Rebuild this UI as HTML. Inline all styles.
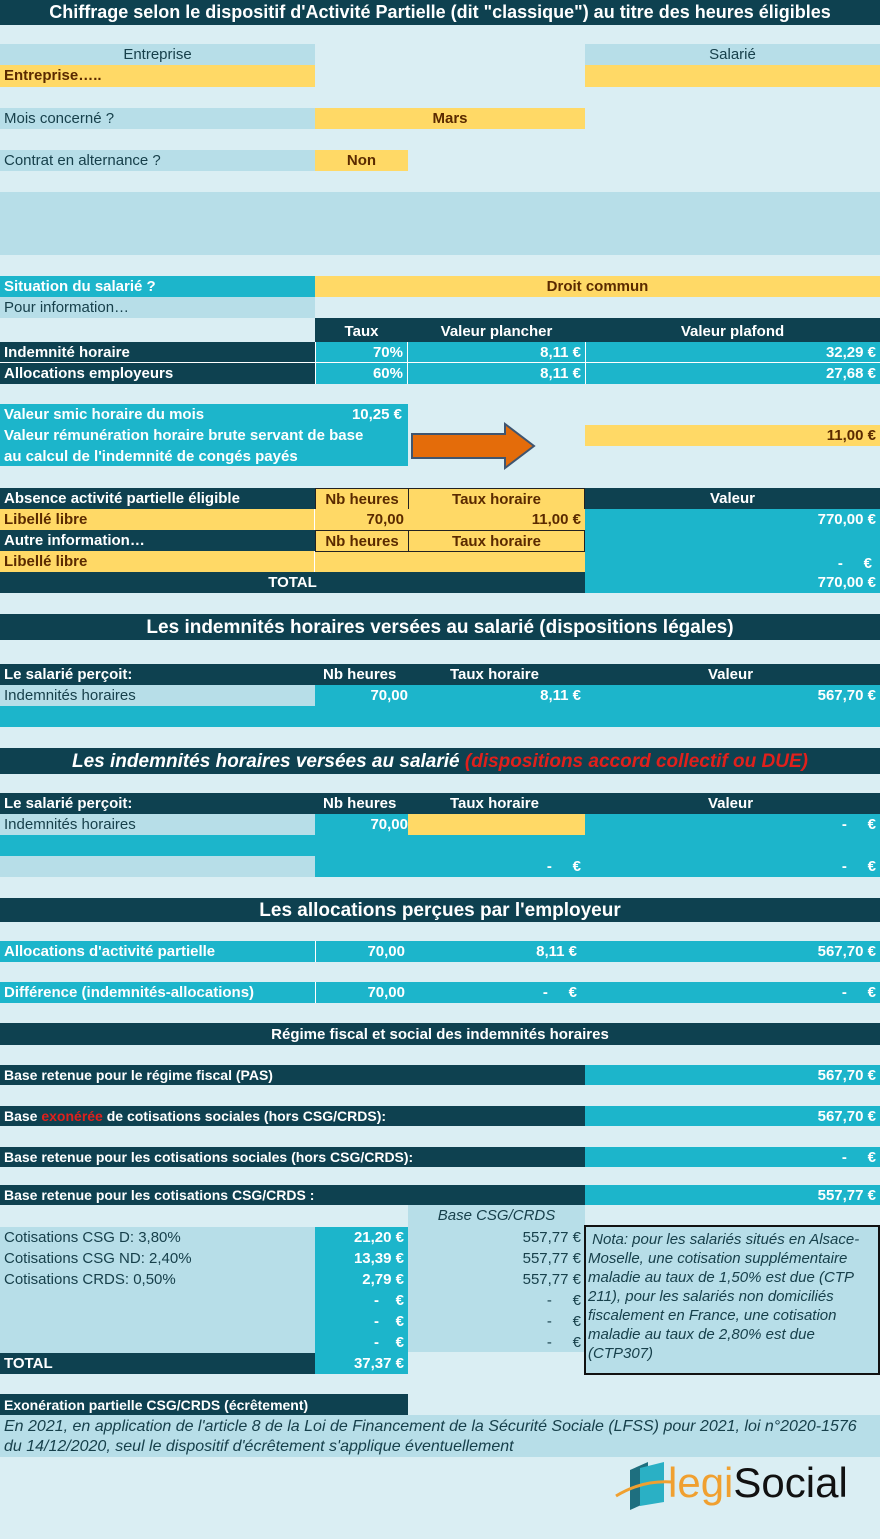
<!DOCTYPE html>
<html><head><meta charset="utf-8"><style>
body{margin:0;width:880px;height:1539px;background:#daeef3;position:relative;overflow:hidden;font-family:"Liberation Sans",Arial,sans-serif;font-size:15px;}
.x{position:absolute;box-sizing:border-box;white-space:nowrap;overflow:hidden;padding:0 4px;}
.d{background:#0e4150;color:#fff;font-weight:bold;}
.y{background:#ffd966;color:#5a2a00;font-weight:bold;}
.cy{background:#1cb5cb;color:#fff;font-weight:bold;}
.lb{background:#b7dee8;color:#17404b;}
.c{text-align:center}.r{text-align:right}
.bx{border:1px solid #222}
</style></head><body>
<div class="x d c" style="left:0;top:0;width:880px;height:25px;line-height:25px;font-size:18px">Chiffrage selon le dispositif d'Activité Partielle (dit "classique") au titre des heures éligibles</div>

<div class="x lb c" style="left:0;top:44px;width:315px;height:21px;line-height:22px">Entreprise</div>
<div class="x lb c" style="left:585px;top:44px;width:295px;height:21px;line-height:22px">Salarié</div>
<div class="x y" style="left:0;top:65px;width:315px;height:22px;line-height:22px">Entreprise…..</div>
<div class="x y" style="left:585px;top:65px;width:295px;height:22px"></div>

<div class="x lb" style="left:0;top:108px;width:315px;height:21px;line-height:22px">Mois concerné ?</div>
<div class="x y c" style="left:315px;top:108px;width:270px;height:21px;line-height:22px">Mars</div>
<div class="x lb" style="left:0;top:150px;width:315px;height:21px;line-height:22px">Contrat en alternance ?</div>
<div class="x y c" style="left:315px;top:150px;width:93px;height:21px;line-height:22px">Non</div>

<div class="x lb" style="left:0;top:192px;width:880px;height:63px"></div>

<div class="x cy" style="left:0;top:276px;width:315px;height:21px;line-height:22px">Situation du salarié ?</div>
<div class="x y c" style="left:315px;top:276px;width:565px;height:21px;line-height:22px">Droit commun</div>
<div class="x lb" style="left:0;top:297px;width:315px;height:21px;line-height:22px">Pour information…</div>

<div class="x d c" style="left:315px;top:318px;width:93px;height:24px;line-height:27px">Taux</div>
<div class="x d c" style="left:408px;top:318px;width:177px;height:24px;line-height:27px">Valeur plancher</div>
<div class="x d c" style="left:585px;top:318px;width:295px;height:24px;line-height:27px">Valeur plafond</div>

<div class="x d" style="left:0;top:342px;width:315px;height:21px;line-height:22px;border-bottom:1px solid #fff">Indemnité horaire</div>
<div class="x cy r" style="left:315px;top:342px;width:93px;height:21px;line-height:22px;border:1px solid #fff;border-top:0">70%</div>
<div class="x cy r" style="left:408px;top:342px;width:177px;height:21px;line-height:22px;border-bottom:1px solid #fff">8,11 €</div>
<div class="x cy r" style="left:585px;top:342px;width:295px;height:21px;line-height:22px;border-left:1px solid #fff;border-bottom:1px solid #fff">32,29 €</div>
<div class="x d" style="left:0;top:363px;width:315px;height:21px;line-height:22px">Allocations employeurs</div>
<div class="x cy r" style="left:315px;top:363px;width:93px;height:21px;line-height:22px;border-left:1px solid #fff;border-right:1px solid #fff">60%</div>
<div class="x cy r" style="left:408px;top:363px;width:177px;height:21px;line-height:22px">8,11 €</div>
<div class="x cy r" style="left:585px;top:363px;width:295px;height:21px;line-height:22px;border-left:1px solid #fff">27,68 €</div>

<div class="x cy" style="left:0;top:404px;width:408px;height:62px;line-height:21px;padding-top:0">Valeur smic horaire du mois<span style="position:absolute;right:6px">10,25 €</span><br>Valeur rémunération horaire brute servant de base<br>au calcul de l'indemnité de congés payés</div>
<svg style="position:absolute;left:410px;top:422px" width="130" height="48"><polygon points="2,12 95,12 95,2 124,24 95,46 95,36 2,36" fill="#e46c0a" stroke="#3f5570" stroke-width="2"/></svg>
<div class="x y r" style="left:585px;top:425px;width:295px;height:21px;line-height:22px">11,00 €</div>

<div class="x d" style="left:0;top:488px;width:315px;height:21px;line-height:22px">Absence activité partielle éligible</div>
<div class="x y c bx" style="left:315px;top:488px;width:94px;height:22px;line-height:21px">Nb heures</div>
<div class="x y c bx" style="left:408px;top:488px;width:177px;height:22px;line-height:21px">Taux horaire</div>
<div class="x d c" style="left:585px;top:488px;width:295px;height:21px;line-height:22px">Valeur</div>
<div class="x y" style="left:0;top:509px;width:315px;height:21px;line-height:22px;border-right:1px solid #fff">Libellé libre</div>
<div class="x y r" style="left:315px;top:509px;width:93px;height:21px;line-height:22px">70,00</div>
<div class="x y r" style="left:408px;top:509px;width:177px;height:21px;line-height:22px">11,00 €</div>
<div class="x cy r" style="left:585px;top:509px;width:295px;height:63px;line-height:22px">770,00 €<br><br><span style="margin-right:4px">-&nbsp;&nbsp;&nbsp;&nbsp;&nbsp;€</span></div>
<div class="x d" style="left:0;top:530px;width:315px;height:21px;line-height:22px">Autre information…</div>
<div class="x y c bx" style="left:315px;top:530px;width:94px;height:22px;line-height:21px">Nb heures</div>
<div class="x y c bx" style="left:408px;top:530px;width:177px;height:22px;line-height:21px">Taux horaire</div>
<div class="x y" style="left:0;top:551px;width:315px;height:21px;line-height:22px;border-right:1px solid #fff">Libellé libre</div>
<div class="x y" style="left:315px;top:552px;width:270px;height:20px"></div>
<div class="x d c" style="left:0;top:572px;width:585px;height:21px;line-height:22px">TOTAL</div>
<div class="x cy r" style="left:585px;top:572px;width:295px;height:21px;line-height:22px">770,00 €</div>

<div class="x d c" style="left:0;top:614px;width:880px;height:26px;line-height:27px;font-size:19px">Les indemnités horaires versées au salarié (dispositions légales)</div>
<div class="x d" style="left:0;top:664px;width:880px;height:21px;line-height:22px">Le salarié perçoit:<span style="position:absolute;left:323px">Nb heures</span><span style="position:absolute;left:450px">Taux horaire</span><span style="position:absolute;left:708px">Valeur</span></div>
<div class="x lb" style="left:0;top:685px;width:315px;height:21px;line-height:22px">Indemnités horaires</div>
<div class="x cy" style="left:315px;top:685px;width:565px;height:42px;line-height:22px"><span style="position:absolute;right:472px">70,00</span><span style="position:absolute;right:299px">8,11 €</span><span style="position:absolute;right:4px">567,70 €</span></div>
<div class="x cy" style="left:0;top:706px;width:315px;height:21px"></div>

<div class="x d c" style="left:0;top:748px;width:880px;height:26px;line-height:27px;font-size:19px;font-style:italic">Les indemnités horaires versées au salarié <span style="color:#e0201c">(dispositions accord collectif ou DUE)</span></div>
<div class="x d" style="left:0;top:793px;width:880px;height:21px;line-height:22px">Le salarié perçoit:<span style="position:absolute;left:323px">Nb heures</span><span style="position:absolute;left:450px">Taux horaire</span><span style="position:absolute;left:708px">Valeur</span></div>
<div class="x lb" style="left:0;top:814px;width:315px;height:21px;line-height:22px">Indemnités horaires</div>
<div class="x cy" style="left:315px;top:814px;width:565px;height:63px;line-height:22px"><span style="position:absolute;right:472px">70,00</span><span style="position:absolute;right:4px">-&nbsp;&nbsp;&nbsp;&nbsp;&nbsp;€</span><span style="position:absolute;right:4px;top:42px">-&nbsp;&nbsp;&nbsp;&nbsp;&nbsp;€</span><span style="position:absolute;right:299px;top:42px">-&nbsp;&nbsp;&nbsp;&nbsp;&nbsp;€</span></div>
<div class="x y" style="left:408px;top:814px;width:177px;height:21px"></div>
<div class="x cy" style="left:0;top:835px;width:315px;height:21px"></div>
<div class="x lb" style="left:0;top:856px;width:315px;height:21px"></div>

<div class="x d c" style="left:0;top:898px;width:880px;height:24px;line-height:25px;font-size:19px">Les allocations perçues par l'employeur</div>
<div class="x cy" style="left:0;top:941px;width:880px;height:21px;line-height:22px">Allocations d'activité partielle<span style="position:absolute;right:475px">70,00</span><span style="position:absolute;right:303px">8,11 €</span><span style="position:absolute;right:4px">567,70 €</span></div>
<div class="x cy" style="left:0;top:982px;width:880px;height:21px;line-height:22px">Différence (indemnités-allocations)<span style="position:absolute;right:475px">70,00</span><span style="position:absolute;right:303px">-&nbsp;&nbsp;&nbsp;&nbsp;&nbsp;€</span><span style="position:absolute;right:4px">-&nbsp;&nbsp;&nbsp;&nbsp;&nbsp;€</span></div>
<div style="position:absolute;left:315px;top:941px;width:1px;height:21px;background:#fff"></div>
<div style="position:absolute;left:315px;top:982px;width:1px;height:21px;background:#fff"></div>

<div class="x d c" style="left:0;top:1023px;width:880px;height:22px;line-height:23px">Régime fiscal et social des indemnités horaires</div>
<div class="x d" style="left:0;top:1065px;width:585px;height:20px;line-height:21px;font-size:14px">Base retenue pour le régime fiscal (PAS)</div>
<div class="x cy r" style="left:585px;top:1065px;width:295px;height:20px;line-height:21px">567,70 €</div>
<div class="x d" style="left:0;top:1106px;width:585px;height:20px;line-height:21px;font-size:14px">Base <span style="color:#e0201c">exonérée</span> de cotisations sociales (hors CSG/CRDS):</div>
<div class="x cy r" style="left:585px;top:1106px;width:295px;height:20px;line-height:21px">567,70 €</div>
<div class="x d" style="left:0;top:1147px;width:585px;height:20px;line-height:21px;font-size:14px">Base retenue pour les cotisations sociales (hors CSG/CRDS):</div>
<div class="x cy r" style="left:585px;top:1147px;width:295px;height:20px;line-height:21px">-&nbsp;&nbsp;&nbsp;&nbsp;&nbsp;€</div>
<div class="x d" style="left:0;top:1185px;width:585px;height:20px;line-height:21px;font-size:14px">Base retenue pour les cotisations CSG/CRDS :</div>
<div class="x cy r" style="left:585px;top:1185px;width:295px;height:20px;line-height:21px">557,77 €</div>

<div class="x lb c" style="left:408px;top:1205px;width:177px;height:147px;line-height:22px;font-style:italic">Base CSG/CRDS</div>
<div class="x lb" style="left:0;top:1227px;width:315px;height:126px;line-height:21px;padding-top:0">Cotisations CSG D: 3,80%<br>Cotisations CSG ND: 2,40%<br>Cotisations CRDS: 0,50%</div>
<div class="x cy r" style="left:315px;top:1227px;width:93px;height:147px;line-height:21px">21,20 €<br>13,39 €<br>2,79 €<br>-&nbsp;&nbsp;&nbsp;&nbsp;€<br>-&nbsp;&nbsp;&nbsp;&nbsp;€<br>-&nbsp;&nbsp;&nbsp;&nbsp;€<br>37,37 €</div>
<div class="x r" style="left:408px;top:1227px;width:177px;height:126px;line-height:21px;color:#17404b">557,77 €<br>557,77 €<br>557,77 €<br>-&nbsp;&nbsp;&nbsp;&nbsp;&nbsp;€<br>-&nbsp;&nbsp;&nbsp;&nbsp;&nbsp;€<br>-&nbsp;&nbsp;&nbsp;&nbsp;&nbsp;€</div>
<div class="x d" style="left:0;top:1353px;width:315px;height:21px;line-height:22px;font-weight:bold">TOTAL</div>
<div class="x lb" style="left:584px;top:1225px;width:296px;height:150px;border:2px solid #111;white-space:normal;font-style:italic;font-size:15px;line-height:19px;padding:3px 2px;color:#17404b">&nbsp;Nota: pour les salariés situés en Alsace-Moselle, une cotisation supplémentaire maladie au taux de 1,50% est due (CTP 211), pour les salariés non domiciliés fiscalement en France, une cotisation maladie au taux de 2,80% est due (CTP307)</div>

<div class="x d" style="left:0;top:1394px;width:408px;height:21px;line-height:22px;font-size:14px">Exonération partielle CSG/CRDS (écrêtement)</div>
<div class="x lb" style="left:0;top:1415px;width:880px;height:42px;line-height:20px;padding-top:2px;font-style:italic;font-size:16px">En 2021, en application de l'article 8 de la Loi de Financement de la Sécurité Sociale (LFSS) pour 2021, loi n°2020-1576<br>du 14/12/2020, seul le dispositif d'écrêtement s'applique éventuellement</div>

<svg style="position:absolute;left:612px;top:1458px" width="60" height="60"><polygon points="18,12 36,4 36,44 18,52" fill="#1e6f7f"/><polygon points="28,10 52,4 52,44 28,48" fill="#2ab0c5"/><path d="M4 38 Q30 22 60 24" stroke="#f0a030" stroke-width="3" fill="none"/></svg>
<div style="position:absolute;left:668px;top:1456px;font-size:42px;line-height:54px;font-family:'Liberation Sans',sans-serif"><span style="color:#f0a030">legi</span><span style="color:#111">Social</span></div>
</body></html>
